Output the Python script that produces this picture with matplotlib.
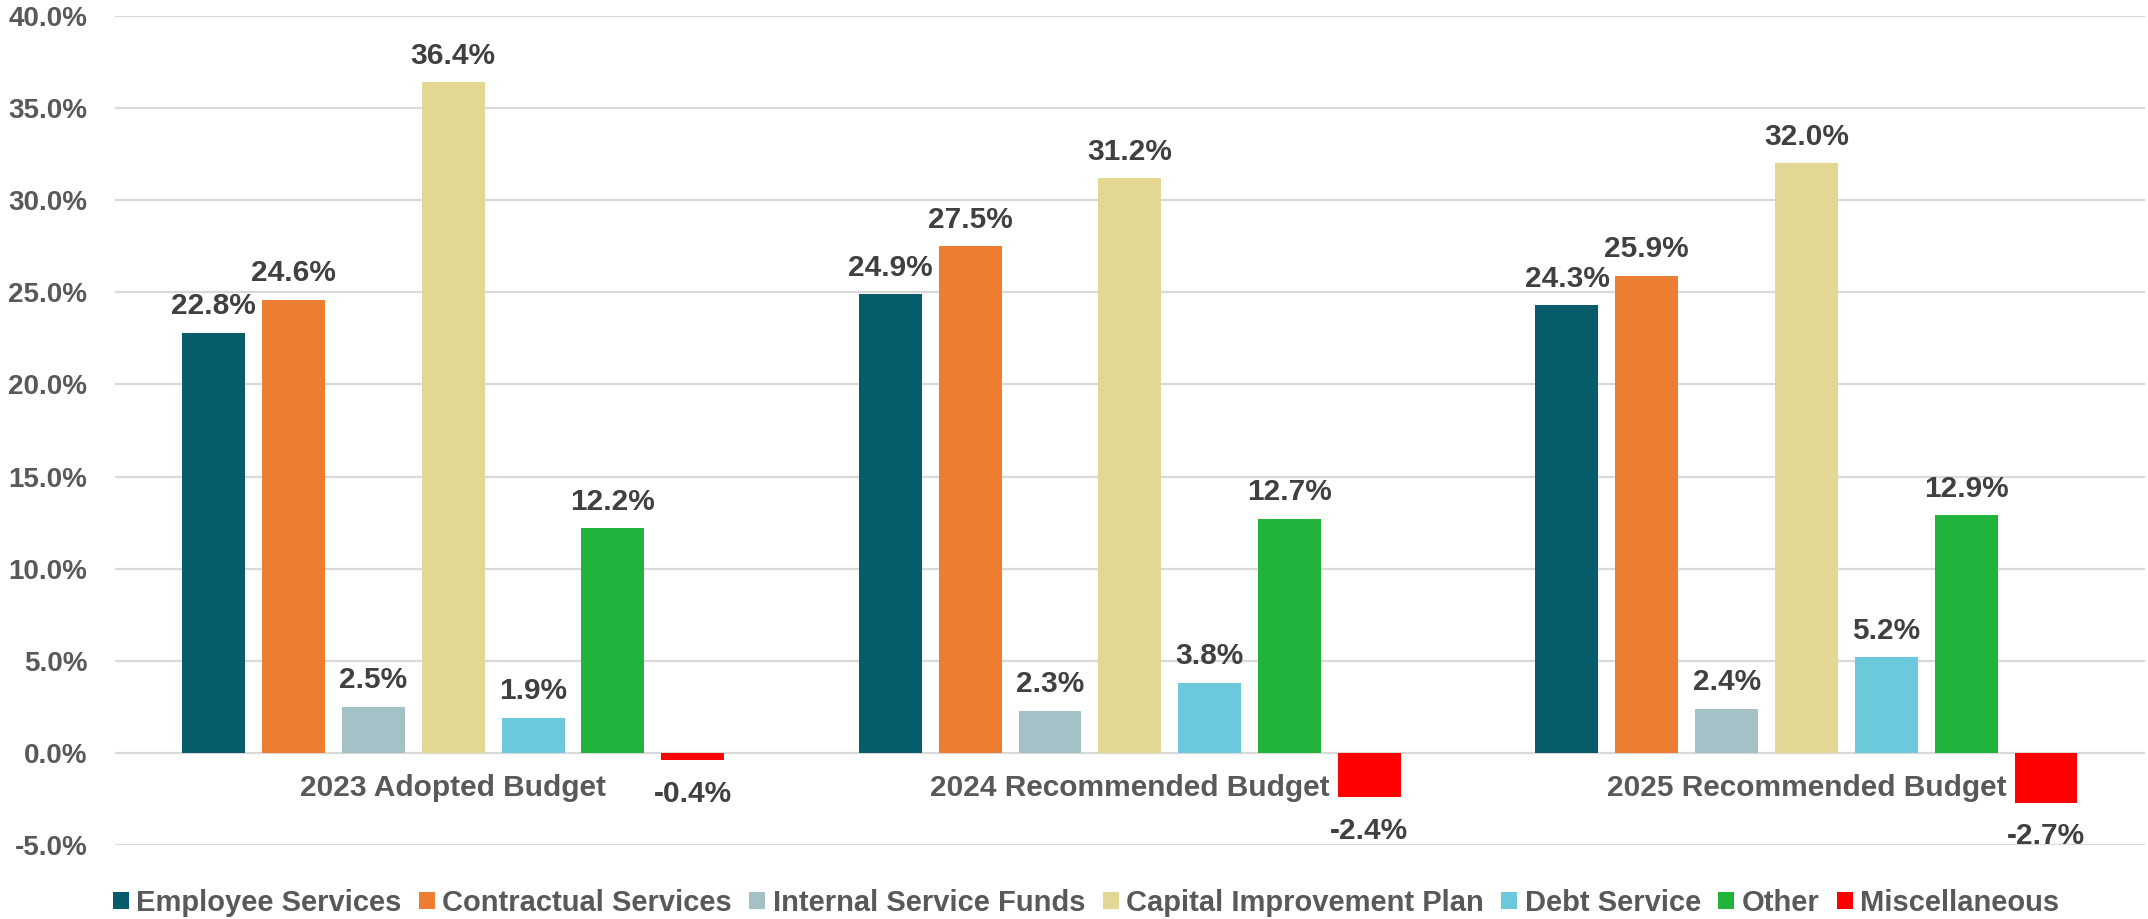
import numpy as np
import matplotlib
matplotlib.use("Agg")
import matplotlib.pyplot as plt
from matplotlib.ticker import FuncFormatter

# === DATA ===
categories = ["2023 Adopted Budget", "2024 Recommended Budget", "2025 Recommended Budget"]
series_names = [
    "Employee Services", "Contractual Services", "Internal Service Funds",
    "Capital Improvement Plan", "Debt Service", "Other", "Miscellaneous",
]
employee_services = [22.8, 24.9, 24.3]
contractual_services = [24.6, 27.5, 25.9]
internal_service_funds = [2.5, 2.3, 2.4]
capital_improvement = [36.4, 31.2, 32.0]
debt_service = [1.9, 3.8, 5.2]
other = [12.2, 12.7, 12.9]
miscellaneous = [-0.4, -2.4, -2.7]

series_values = [
    employee_services, contractual_services, internal_service_funds,
    capital_improvement, debt_service, other, miscellaneous,
]
colors = ["#065C6A", "#ED7D31", "#A5C1C8", "#E2D893", "#6BC9DB", "#21B33B", "#FF0000"]

plt.rcParams["font.family"] = ["Liberation Sans", "DejaVu Sans"]
plt.rcParams["font.weight"] = "bold"

def main():
    fig = plt.figure(figsize=(21.48, 9.19), dpi=100)
    ax = fig.add_axes([0.0535, 0.0805, 0.945, 0.902])

    x = np.arange(len(categories))
    n = len(series_values)
    pitch = 0.118
    width = 0.093

    for i, (name, vals, col) in enumerate(zip(series_names, series_values, colors)):
        pos = x + (i - (n - 1) / 2) * pitch
        bars = ax.bar(pos, vals, width=width, color=col, label=name, zorder=3)
        for b, v in zip(bars, vals):
            cx = b.get_x() + b.get_width() / 2
            if v >= 0:
                ax.annotate(f"{v:.1f}%", (cx, v), xytext=(0, 9), textcoords="offset points",
                            ha="center", va="bottom", fontsize=21.5, fontweight="bold",
                            color="#404040")
            else:
                ax.annotate(f"{v:.1f}%", (cx, v), xytext=(0, -14), textcoords="offset points",
                            ha="center", va="top", fontsize=21.5, fontweight="bold",
                            color="#404040")

    # category names sit just under the zero line
    for xi, cat in zip(x, categories):
        ax.annotate(cat, (xi, 0), xytext=(0, -15), textcoords="offset points",
                    ha="center", va="top", fontsize=21.5, fontweight="bold", color="#595959")

    ax.set_xlim(-0.5, len(categories) - 0.5)
    ax.set_ylim(-5, 40)
    ax.set_yticks(np.arange(-5, 41, 5))
    ax.yaxis.set_major_formatter(FuncFormatter(lambda v, p: f"{v:.1f}%"))
    ax.set_xticks([])
    ax.tick_params(axis="y", length=0, pad=20, labelsize=20, labelcolor="#595959")
    for lab in ax.get_yticklabels():
        lab.set_fontweight("bold")

    ax.grid(axis="y", color="#D9D9D9", linewidth=1.6, zorder=0)
    for s in ax.spines.values():
        s.set_visible(False)

    fig.legend(loc="lower center", bbox_to_anchor=(0.5056, -0.026), ncol=n, frameon=False,
               handlelength=0.55, handleheight=0.55, handletextpad=0.25,
               columnspacing=0.6, labelcolor="#595959", prop={"weight": "bold", "size": 21})

    fig.savefig("out.png", dpi=100)


if __name__ == "__main__":
    main()
